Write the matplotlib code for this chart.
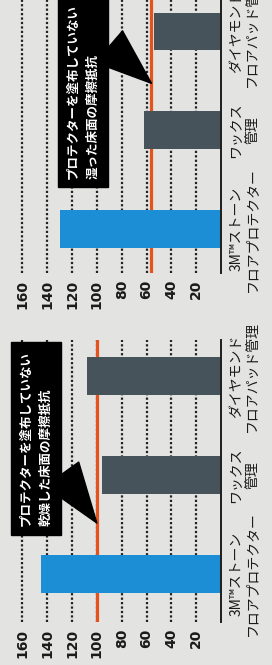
import matplotlib
matplotlib.use("Agg")
import matplotlib.pyplot as plt

# Friction resistance of floor surfaces, dry (bottom) and wet (top)
categories = ["3M™ストーン\nフロアプロテクター", "ワックス\n管理", "ダイヤモンド\nフロアパッド管理"]
dry_values = [145, 96, 108]
wet_values = [130, 62, 54]
dry_threshold = 100
wet_threshold = 56
ticks = [20, 40, 60, 80, 100, 120, 140, 160]
dry_note = "プロテクターを塗布していない\n乾燥した床面の摩擦抵抗"
wet_note = "プロテクターを塗布していない\n湿った床面の摩擦抵抗"

BG = "#e3e3e1"
BAR_COLORS = ["#1c8ed6", "#46535b", "#46535b"]
RED = "#e4531d"

plt.rcParams['font.family'] = ['Noto Sans CJK JP', 'DejaVu Sans']

fig = plt.figure(figsize=(2.72, 6.65), dpi=100, facecolor=BG)


def draw_panel(rect, ylim, values, threshold, note, note_xy, tip_xy, relpos):
    ax = fig.add_axes(rect)
    ax.set_facecolor("none")
    ax.barh(range(len(values)), values, height=0.38, color=BAR_COLORS, zorder=3)
    ax.axvline(threshold, color=RED, lw=2.3, zorder=2.5)
    ax.axvline(0, color="#1e1e1e", lw=1.4, zorder=4, clip_on=False)

    ax.set_xlim(174, 0)
    ax.set_ylim(*ylim)
    ax.set_xticks(ticks)
    ax.set_xticklabels([str(t) for t in ticks], rotation=90, fontsize=10,
                       fontweight="bold", family="DejaVu Sans", color="#1a1a1a")
    ax.tick_params(axis="x", length=0, pad=5)
    ax.grid(axis="x", linestyle=(0, (1, 1)), color="#222222", lw=1.6)
    ax.set_axisbelow(True)

    ax.yaxis.tick_right()
    ax.set_yticks(range(len(categories)))
    ax.set_yticklabels(categories, rotation=90, va="center", ha="left",
                       multialignment="center", fontsize=10, color="#1a1a1a")
    ax.tick_params(axis="y", length=0, pad=6)
    for s in ax.spines.values():
        s.set_visible(False)

    ax.annotate(note, xy=tip_xy, xytext=note_xy, rotation=90,
                ha="center", va="center", multialignment="left",
                fontsize=9, fontweight="bold", color="white", linespacing=1.7,
                zorder=6,
                bbox=dict(boxstyle="square,pad=0.7", fc="black", ec="black"),
                arrowprops=dict(arrowstyle="wedge,tail_width=1.5", fc="black",
                                ec="black", mutation_scale=20, shrinkA=0,
                                shrinkB=0, relpos=relpos),
                annotation_clip=False)
    return ax


# wet floor (top)
draw_panel([5 / 272, 392 / 665, 216 / 272, 273 / 665], (-0.444, 2.318),
           wet_values, wet_threshold, wet_note, (111, 1.395), (wet_threshold, 1.475),
           (1.0, 0.8))
# dry floor (bottom)
draw_panel([5 / 272, 43 / 665, 216 / 272, 282 / 665], (-0.485, 2.364),
           dry_values, dry_threshold, dry_note, (149, 1.37), (dry_threshold, 0.515),
           (0.5, 0.5))

fig.savefig("out.png", dpi=100, facecolor=BG)
